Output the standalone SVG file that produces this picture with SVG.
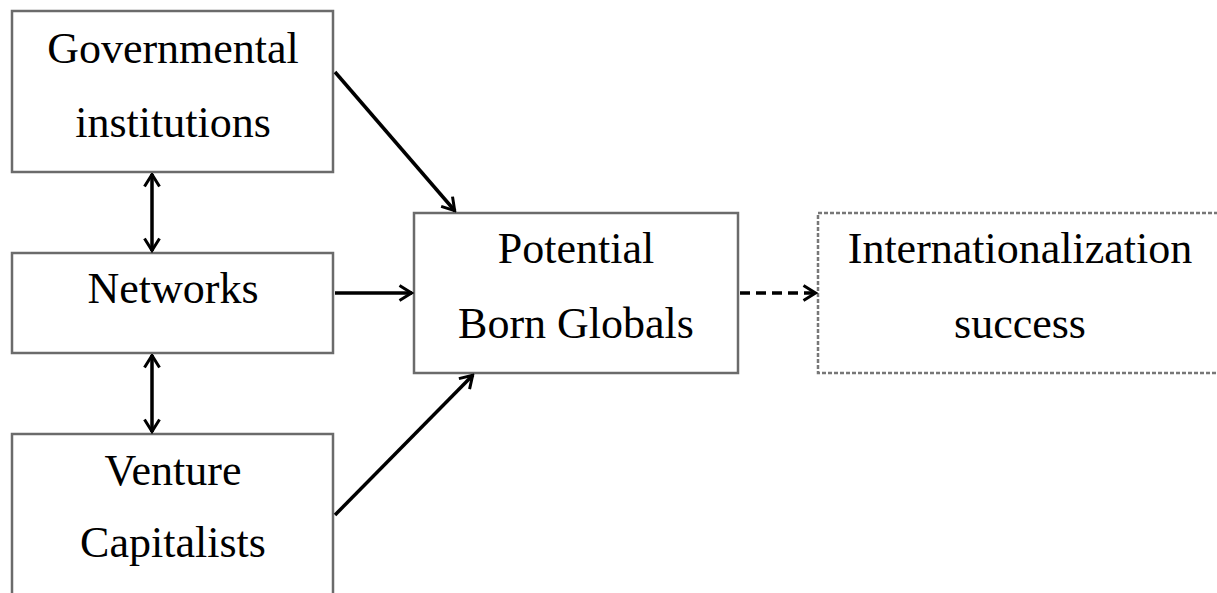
<svg xmlns="http://www.w3.org/2000/svg" width="1217" height="593" viewBox="0 0 1217 593">
<style>
.box{fill:#fff;stroke:#6b6b6b;stroke-width:2.5}
.dbox{fill:#fff;stroke:#777;stroke-width:2.5;stroke-dasharray:4 2}
.t{font-family:"Liberation Serif","Times New Roman",serif;font-size:44px;fill:#000;text-anchor:middle}
.c{stroke:#000;stroke-width:3.5;fill:none}
</style>
<defs>
<marker id="ah" viewBox="0 0 16 18" refX="14.5" refY="9" markerWidth="16" markerHeight="18" markerUnits="userSpaceOnUse" orient="auto-start-reverse">
<path d="M2,1.5 L14,9 L2,16.5" fill="none" stroke="#000" stroke-width="3"/>
</marker>
</defs>
<rect width="1217" height="593" fill="#fff"/>
<g id="gov"><rect class="box" x="12" y="11" width="321" height="161"/>
<text class="t" x="173" y="63">Governmental</text><text class="t" x="173" y="137">institutions</text></g>
<g id="networks"><rect class="box" x="12" y="253" width="321" height="100"/>
<text class="t" x="173" y="303">Networks</text></g>
<g id="venture"><rect class="box" x="12" y="434" width="321" height="170"/>
<text class="t" x="173" y="485">Venture</text><text class="t" x="173" y="557">Capitalists</text></g>
<g id="potential"><rect class="box" x="414" y="213" width="324" height="160"/>
<text class="t" x="576" y="263">Potential</text><text class="t" x="576" y="338">Born Globals</text></g>
<g id="success"><rect class="dbox" x="818" y="213" width="410" height="160"/>
<text class="t" x="1020" y="263">Internationalization</text><text class="t" x="1020" y="338">success</text></g>
<g id="connectors">
<line class="c" x1="335" y1="72" x2="455" y2="211" marker-end="url(#ah)"/>
<line class="c" x1="335" y1="293" x2="412" y2="293" marker-end="url(#ah)"/>
<line class="c" x1="335" y1="515" x2="473" y2="375" marker-end="url(#ah)"/>
<line class="c" x1="152" y1="174" x2="152" y2="251" marker-start="url(#ah)" marker-end="url(#ah)"/>
<line class="c" x1="152" y1="355" x2="152" y2="432" marker-start="url(#ah)" marker-end="url(#ah)"/>
<line class="c" x1="740" y1="293" x2="816" y2="293" stroke-dasharray="10 6" marker-end="url(#ah)"/>
</g>
</svg>
